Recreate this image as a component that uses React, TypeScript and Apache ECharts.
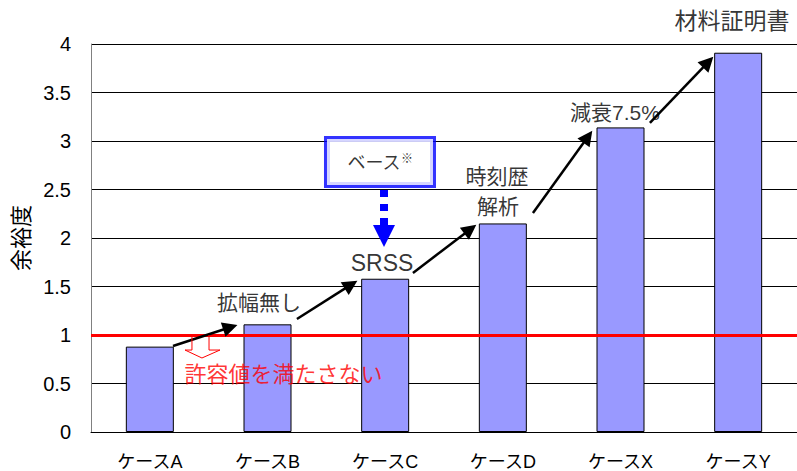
import React, { useEffect, useRef } from "react";
import * as echarts from "echarts";

const categories = ["ケースA", "ケースB", "ケースC", "ケースD", "ケースX", "ケースY"];
const margins = [0.88, 1.11, 1.58, 2.15, 3.14, 3.91];
const allowableLimit = 1;

// annotation arrows [x0, y0, x1, y1] in data units (x: category index)
const stepArrows = [
  [0.197, 0.887, 0.684, 1.08],
  [1.25, 1.165, 1.71, 1.519],
  [2.236, 1.64, 2.724, 2.091],
  [3.256, 2.258, 3.723, 3.044],
  [4.25, 3.186, 4.745, 3.813],
];
const stepLabels = [
  { text: "拡幅無し", x: 0.928, y: 1.34, size: 21 },
  { text: "SRSS", x: 1.973, y: 1.742, size: 23 },
  { text: "時刻歴", x: 2.95, y: 2.629, size: 21 },
  { text: "解析", x: 2.959, y: 2.32, size: 21 },
  { text: "減衰7.5%", x: 3.953, y: 3.289, size: 21 },
  { text: "材料証明書", x: 4.947, y: 4.237, size: 23 },
];
const failLabel = { text: "許容値を満たさない", x: 1.136, y: 0.588 };
const failArrow = [
  [0.358, 1.0], [0.358, 0.845], [0.299, 0.845], [0.443, 0.763],
  [0.596, 0.845], [0.503, 0.845], [0.503, 1.0],
];
const baseBox = { x: 1.956, y: 2.784 };
const baseArrow = [1.99, 2.495, 1.99, 2.02];

const FONT = "'Liberation Sans', 'Noto Sans CJK JP', sans-serif";

export default function App() {
  const ref = useRef<HTMLDivElement>(null);
  useEffect(() => {
    if (!ref.current) return;
    const chart = echarts.init(ref.current, null, { renderer: "svg" });
    chart.setOption({
      animation: false,
      textStyle: { fontFamily: FONT },
      grid: { left: 91, right: 0, top: 44, bottom: 39, containLabel: false, outerBoundsMode: "none" },
      xAxis: [
        {
          type: "category",
          data: categories,
          axisLine: { lineStyle: { color: "#000", width: 1 } },
          axisTick: { inside: true, length: 5, lineStyle: { color: "#555" } },
          axisLabel: { color: "#000", fontSize: 18, margin: 21, fontFamily: FONT },
        },
        { type: "value", min: -0.5, max: 5.5, show: false },
      ],
      yAxis: {
        type: "value",
        min: 0,
        max: 4,
        interval: 0.5,
        name: "余裕度",
        nameLocation: "middle",
        nameGap: 58,
        nameRotate: 90,
        nameTextStyle: { color: "#000", fontSize: 22, fontFamily: FONT },
        axisLine: { show: true, onZero: false, lineStyle: { color: "#808080", width: 1 } },
        axisTick: { show: false },
        axisLabel: { color: "#000", fontSize: 20, margin: 20, fontFamily: FONT },
        splitLine: { lineStyle: { color: "#000", width: 1 } },
      },
      series: [
        {
          type: "bar",
          data: margins,
          barWidth: 48,
          itemStyle: { color: "#9999FF", borderColor: "#000", borderWidth: 1 },
          markLine: {
            silent: true,
            symbol: ["none", "none"],
            label: { show: false },
            lineStyle: { color: "#FF0000", width: 3, type: "solid" },
            data: [{ yAxis: allowableLimit }],
          },
        },
        {
          type: "lines",
          coordinateSystem: "cartesian2d",
          xAxisIndex: 1,
          yAxisIndex: 0,
          symbol: ["none", "triangle"],
          symbolSize: [13, 15],
          lineStyle: { color: "#000", width: 2.5, opacity: 1 },
          itemStyle: { color: "#000" },
          data: stepArrows.map((a) => ({ coords: [[a[0], a[1]], [a[2], a[3]]] })),
          z: 5,
        },
        {
          type: "lines",
          coordinateSystem: "cartesian2d",
          xAxisIndex: 1,
          yAxisIndex: 0,
          symbol: ["none", "triangle"],
          symbolSize: [21, 22],
          lineStyle: { color: "#0000FF", width: 8, type: [7, 7], opacity: 1 },
          itemStyle: { color: "#0000FF" },
          data: [{ coords: [[baseArrow[0], baseArrow[1]], [baseArrow[2], baseArrow[3]]] }],
          z: 5,
        },
        {
          type: "lines",
          coordinateSystem: "cartesian2d",
          xAxisIndex: 1,
          yAxisIndex: 0,
          polyline: true,
          symbol: ["none", "none"],
          lineStyle: { color: "#FF0000", width: 1, opacity: 1 },
          data: [{ coords: failArrow }],
          z: 5,
        },
        {
          type: "scatter",
          xAxisIndex: 1,
          yAxisIndex: 0,
          symbolSize: 0,
          clip: false,
          silent: true,
          z: 6,
          label: {
            show: true,
            position: "inside",
            color: "#000",
            fontSize: 21,
            fontFamily: FONT,
            formatter: (p: any) => p.data.name,
          },
          data: [
            ...stepLabels.map((l) => ({ name: l.text, value: [l.x, l.y], label: { fontSize: l.size } })),
            {
              name: failLabel.text,
              value: [failLabel.x, failLabel.y],
              label: { color: "#FF0000", fontSize: 22 },
            },
            {
              name: "ベース※",
              value: [baseBox.x, baseBox.y],
              label: {
                formatter: "{a|ベース}{b|※}",
                backgroundColor: "#fff",
                borderColor: "#0000FF",
                borderWidth: 3,
                padding: [14, 20, 12, 20],
                rich: {
                  a: { fontSize: 18, color: "#000", fontFamily: FONT, lineHeight: 20 },
                  b: { fontSize: 12, color: "#000", fontFamily: FONT, verticalAlign: "top", lineHeight: 20, padding: [0, 0, 8, 0] },
                },
              },
            },
          ],
        },
      ],
    });
    return () => chart.dispose();
  }, []);
  return <div ref={ref} style={{ width: 797, height: 471, position: "absolute", left: 0, top: 0 }} />;
}
